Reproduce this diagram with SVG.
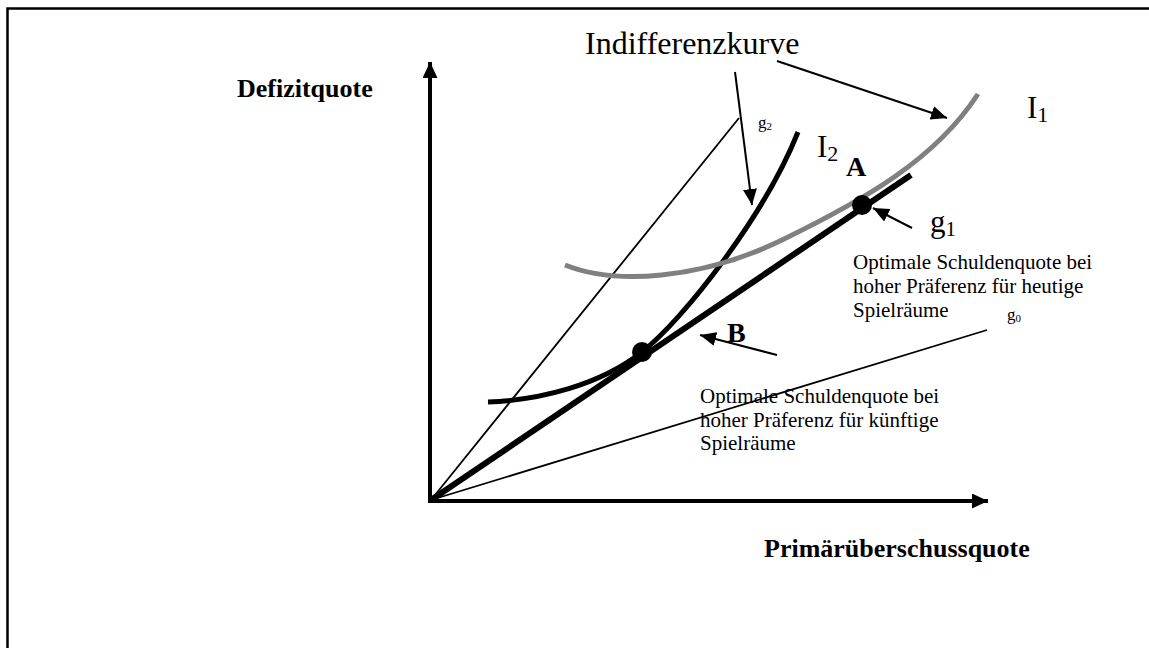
<svg xmlns="http://www.w3.org/2000/svg" width="1149" height="648" viewBox="0 0 1149 648">
<style>
.t{font-family:"Liberation Serif","Times New Roman",serif;fill:#000}
.b{font-weight:bold}
.ln{stroke:#000;fill:none;stroke-linecap:butt}
</style>
<defs>
<marker id="axh" viewBox="0 0 10 10" refX="10" refY="5" markerWidth="16" markerHeight="15" markerUnits="userSpaceOnUse" orient="auto" preserveAspectRatio="none">
<path d="M0,0 L10,5 L0,10 z" fill="#000"/>
</marker>
<marker id="sh" viewBox="0 0 10 10" refX="10" refY="5" markerWidth="16" markerHeight="14" markerUnits="userSpaceOnUse" orient="auto" preserveAspectRatio="none">
<path d="M0,0 L10,5 L0,10 z" fill="#000"/>
</marker>
</defs>
<rect x="0" y="0" width="1149" height="648" fill="#fff"/>
<rect id="frame" x="7.5" y="8.5" width="1160" height="660" fill="none" stroke="#000" stroke-width="2.5"/>

<g id="axes">
<line class="ln" x1="430" y1="502" x2="430" y2="62" stroke-width="4" marker-end="url(#axh)"/>
<line class="ln" x1="428" y1="501" x2="988" y2="501" stroke-width="4" marker-end="url(#axh)"/>
</g>

<g id="lines">
<line id="g2-line" class="ln" x1="431" y1="500" x2="739" y2="118" stroke-width="1.8"/>
<line id="g0-line" class="ln" x1="431" y1="500" x2="987" y2="330" stroke-width="1.8"/>
<line id="g1-line" class="ln" x1="431" y1="500" x2="911" y2="175" stroke-width="6"/>
</g>

<g id="I2-curve">
<path class="ln" d="M488,402 C540,400 600,385 642,352 S765,215 798,132" stroke-width="5"/>
</g>

<g id="I1-curve">
<path d="M565,265 C615,285 700,280 782,240 S935,160 978,94" fill="none" stroke="#808080" stroke-width="5"/>
</g>

<g id="points">
<circle id="A" cx="862" cy="205" r="10" fill="#000"/>
<circle id="B" cx="642" cy="352" r="10" fill="#000"/>
</g>

<g id="connectors">
<line class="ln" x1="735" y1="72" x2="752" y2="205" stroke-width="2" marker-end="url(#sh)"/>
<line class="ln" x1="777" y1="61" x2="947" y2="118" stroke-width="2" marker-end="url(#sh)"/>
<line class="ln" x1="912" y1="228" x2="873" y2="208" stroke-width="2" marker-end="url(#sh)"/>
<line class="ln" x1="777" y1="355" x2="700" y2="335" stroke-width="2" marker-end="url(#sh)"/>
</g>

<g id="labels">
<text class="t" x="585" y="54" font-size="32">Indifferenzkurve</text>
<text class="t b" x="237" y="97" font-size="26">Defizitquote</text>
<text class="t b" x="764" y="557" font-size="26">Primärüberschussquote</text>
<text class="t b" x="846" y="176" font-size="28">A</text>
<text class="t b" x="727" y="342" font-size="28">B</text>
<text class="t" x="817" y="157" font-size="31">I<tspan font-size="22" dy="4">2</tspan></text>
<text class="t" x="1027" y="118" font-size="31">I<tspan font-size="22" dy="4">1</tspan></text>
<text class="t" x="930" y="232" font-size="31">g<tspan font-size="21" dy="4">1</tspan></text>
<text class="t" x="758" y="128" font-size="17">g<tspan font-size="11" dy="2">2</tspan></text>
<text class="t" x="1007" y="320" font-size="17">g<tspan font-size="11" dy="2">0</tspan></text>
<text class="t" font-size="21"><tspan x="853" y="269">Optimale Schuldenquote bei</tspan><tspan x="853" y="293">hoher Präferenz für heutige</tspan><tspan x="853" y="317">Spielräume</tspan></text>
<text class="t" font-size="21"><tspan x="700" y="403">Optimale Schuldenquote bei</tspan><tspan x="700" y="427">hoher Präferenz für künftige</tspan><tspan x="700" y="450">Spielräume</tspan></text>
</g>
</svg>
